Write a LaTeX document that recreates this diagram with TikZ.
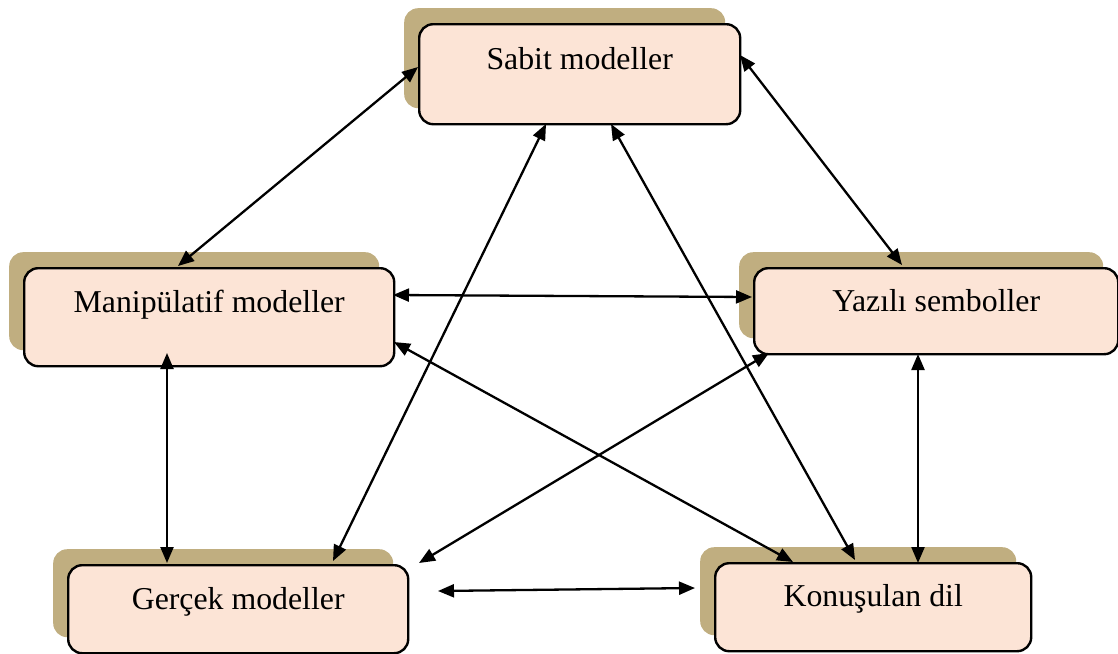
\documentclass[tikz,border=0pt]{standalone}
\usepackage{fontspec}
\setmainfont{Liberation Serif}
\usetikzlibrary{arrows.meta,shadows}
\definecolor{boxfill}{RGB}{252,228,214}
\definecolor{shadowtan}{RGB}{192,174,128}
\begin{document}
\begin{tikzpicture}[x=1pt,y=-1pt,
  card/.style={draw=black, line width=2.4pt, fill=boxfill, rounded corners=14pt,
    anchor=north west, inner sep=0pt, align=center,
    font=\fontsize{31.8}{36}\selectfont,
    general shadow={fill=shadowtan, draw=none, shadow xshift=-15pt, shadow yshift=16pt}},
  link/.style={line width=2.3pt,
    {Triangle[length=16pt,width=13pt]}-{Triangle[length=16pt,width=13pt]}}]

\useasboundingbox (0,0) rectangle (1118,653);

% the five representation cards
\node[card, minimum width=321pt, text height=45pt, text depth=55pt] (S) at (418,23) {Sabit modeller};
\node[card, minimum width=370pt, text height=44pt, text depth=54pt] (M) at (23,267) {Manipülatif modeller};
\node[card, minimum width=364pt, text height=43pt, text depth=43pt] (Y) at (753,267) {Yazılı semboller};
\node[card, minimum width=340pt, text height=44pt, text depth=44pt] (G) at (67,564) {Gerçek modeller};
\node[card, minimum width=316pt, text height=43pt, text depth=45pt] (K) at (714,562) {Konuşulan dil};

% two-way links between the representations
\draw[link] ([shift={(0,44)}]S.north west) -- ([shift={(155,-1)}]M.north west);
\draw[link] ([shift={(322,32)}]S.north west) -- ([shift={(149,-2)}]Y.north west);
\draw[link] ([shift={(128,101)}]S.north west) -- ([shift={(266,-3)}]G.north west);
\draw[link] ([shift={(193,101)}]S.north west) -- ([shift={(141,-2)}]K.north west);
\draw[link] ([shift={(370,28)}]M.north west) -- ([shift={(-1,30)}]Y.north west);
\draw[link] ([shift={(144,86)}]M.north west) -- ([shift={(100,-1)}]G.north west);
\draw[link] ([shift={(371,75)}]M.north west) -- ([shift={(79,0)}]K.north west);
\draw[link] ([shift={(16,86)}]Y.north west) -- ([shift={(352,-1)}]G.north west);
\draw[link] ([shift={(165,87)}]Y.north west) -- ([shift={(204,1)}]K.north west);
\draw[link] ([shift={(371,27)}]G.north west) -- ([shift={(-19,26)}]K.north west);

\end{tikzpicture}
\end{document}
